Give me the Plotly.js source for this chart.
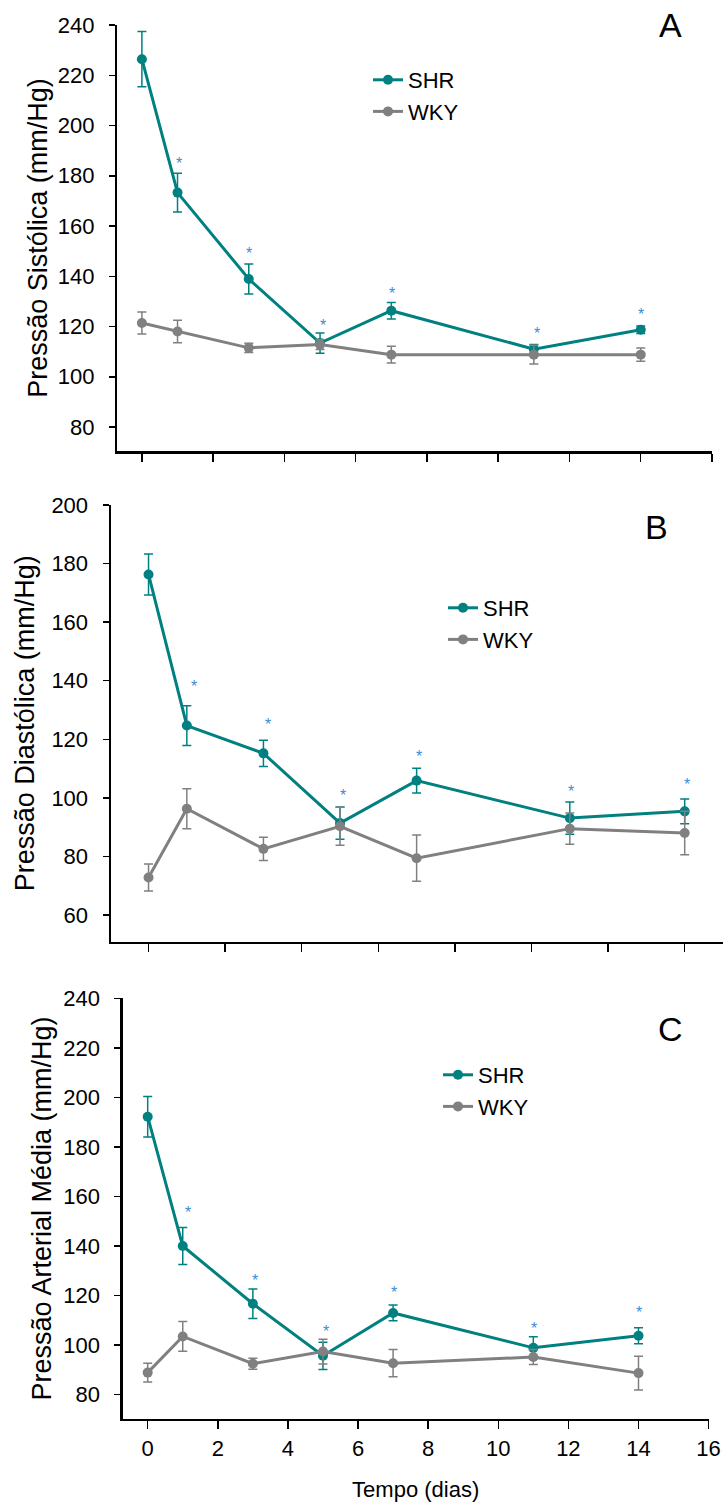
<!DOCTYPE html>
<html>
<head>
<meta charset="utf-8">
<script src="https://cdn.plot.ly/plotly-3.0.1.min.js"></script>
<style>html,body{margin:0;padding:0;background:#fff;}#chart{width:723px;height:1503px;}</style>
</head>
<body>
<div id="chart"></div>
<script>
// ---- data ----
const days = [0, 1, 3, 5, 7, 11, 14];
const xTicks = [0, 2, 4, 6, 8, 10, 12, 14, 16];

// A: Pressão Sistólica
const sysSHR    = [226.4, 173.3, 138.9, 113.4, 126.3, 111.0, 118.7];
const sysSHRerr = [11, 7.7, 6, 4, 3.3, 1.8, 1.5];
const sysWKY    = [121.4, 118.0, 111.5, 112.8, 108.8, 108.8, 108.8];
const sysWKYerr = [4.4, 4.5, 1.8, 2, 3.3, 3.7, 2.6];
const sysStarX  = [1.05, 3.0, 5.07, 7.03, 11.08, 14.0];
const sysStarY  = [187, 151, 122.4, 135, 119.4, 126.7];

// B: Pressão Diastólica
const diaSHR    = [176.3, 124.7, 115.2, 91.4, 105.9, 93.1, 95.4];
const diaSHRerr = [7, 6.8, 4.5, 5.5, 4.2, 5.5, 4.2];
const diaWKY    = [72.8, 96.3, 82.6, 90.3, 79.4, 89.5, 88.0];
const diaWKYerr = [4.6, 6.8, 4, 6.5, 7.9, 5.3, 7.4];
const diaStarX  = [1.2, 3.13, 5.09, 7.05, 11.02, 14.06];
const diaStarY  = [139.8, 126.9, 102.6, 116, 103.8, 106.3];

// C: Pressão Arterial Média
const mapSHR    = [192.2, 140.0, 116.7, 95.7, 113.0, 98.9, 103.8];
const mapSHRerr = [8.2, 7.5, 6, 5.5, 3.2, 4.5, 3.2];
const mapWKY    = [88.9, 103.5, 92.5, 97.4, 92.7, 95.2, 88.7];
const mapWKYerr = [3.8, 6, 2.2, 5, 5.5, 3, 6.8];
const mapStarX  = [1.16, 3.05, 5.1, 7.04, 11.02, 14.01];
const mapStarY  = [155.6, 128.2, 107.6, 123.2, 108.7, 115];

const seriesNames = ['SHR', 'WKY'];
const panelLetters = ['A', 'B', 'C'];
const yTitles = ['Pressão Sistólica (mm/Hg)', 'Pressão Diastólica (mm/Hg)', 'Pressão Arterial Média (mm/Hg)'];
const xTitle = 'Tempo (dias)';

// ---- styling ----
const TEAL = '#008080';
const GREY = '#808080';
const STAR = '#3a8dd6';
const FONT = 'Liberation Sans, Arial, sans-serif';

function series(name, y, err, color, xa, ya, leg) {
  return {
    type: 'scatter', mode: 'lines+markers', name: name,
    x: days, y: y, xaxis: xa, yaxis: ya, legend: leg,
    line: {color: color, width: 3},
    marker: {color: color, size: 10, symbol: 'circle'},
    error_y: {type: 'data', array: err, visible: true, color: color, thickness: 1.5, width: 4.5},
    cliponaxis: false
  };
}
function starNotes(x, y, xa, ya) {
  return x.map((v, i) => ({
    xref: xa, yref: ya, x: v, y: y[i], text: '*', showarrow: false,
    xanchor: 'center', yanchor: 'middle', yshift: -5,
    font: {color: STAR, size: 16, family: FONT}
  }));
}

const data = [
  series(seriesNames[0], sysSHR, sysSHRerr, TEAL, 'x', 'y', 'legend'),
  series(seriesNames[1], sysWKY, sysWKYerr, GREY, 'x', 'y', 'legend'),
  series(seriesNames[0], diaSHR, diaSHRerr, TEAL, 'x2', 'y2', 'legend2'),
  series(seriesNames[1], diaWKY, diaWKYerr, GREY, 'x2', 'y2', 'legend2'),
  series(seriesNames[0], mapSHR, mapSHRerr, TEAL, 'x3', 'y3', 'legend3'),
  series(seriesNames[1], mapWKY, mapWKYerr, GREY, 'x3', 'y3', 'legend3')
];

const W = 723, H = 1503;
function xa(l, r, range, anchor, labels) {
  return {
    domain: [l / W, r / W], range: range, anchor: anchor,
    tickmode: 'array', tickvals: xTicks, ticktext: xTicks.map(String),
    showticklabels: labels, ticks: 'outside', ticklen: 8, tickwidth: 1.5, tickcolor: '#000',
    showline: true, linecolor: '#000', linewidth: 2.5,
    showgrid: false, zeroline: false,
    tickfont: {family: FONT, size: 22, color: '#000'}
  };
}
function ya(top, bottom, range, anchor, title, standoff) {
  return {
    domain: [1 - bottom / H, 1 - top / H], range: range, anchor: anchor,
    dtick: 20, tick0: 0,
    ticks: 'outside', ticklen: 6, tickwidth: 1.5, tickcolor: '#000',
    ticklabelstandoff: 10,
    showline: true, linecolor: '#000', linewidth: 2.5,
    showgrid: false, zeroline: false,
    tickfont: {family: FONT, size: 22, color: '#000'},
    title: {text: title, font: {family: FONT, size: 27, color: '#000'}, standoff: standoff}
  };
}
function legend(left, top) {
  return {
    x: left / W, y: 1 - top / H, xanchor: 'left', yanchor: 'top',
    bgcolor: 'rgba(0,0,0,0)', borderwidth: 0, tracegroupgap: 0,
    font: {family: FONT, size: 22, color: '#000'}
  };
}

const layout = {
  width: W, height: H,
  margin: {l: 0, r: 0, t: 0, b: 0},
  paper_bgcolor: '#fff', plot_bgcolor: '#fff',
  showlegend: true,
  font: {family: FONT, color: '#000'},
  xaxis:  xa(117.3, 712, [-0.69, 16], 'y', false),
  yaxis:  ya(25, 451, [70.45, 240], 'x', yTitles[0], 2),
  xaxis2: xa(111, 723, [-0.98, 15.0], 'y2', false),
  yaxis2: ya(505, 941.7, [50.9, 200], 'x2', yTitles[1], 9),
  xaxis3: Object.assign(xa(122.8, 708.6, [-0.71, 16], 'y3', true),
    {title: {text: xTitle, font: {family: FONT, size: 22, color: '#000'}, standoff: 22}}),
  yaxis3: ya(998.3, 1418.7, [70.3, 240], 'x3', yTitles[2], 4),
  legend:  legend(368, 59),
  legend2: legend(443, 587),
  legend3: legend(438, 1054),
  annotations: [
    {text: panelLetters[0], x: 670 / W, y: 1 - 25 / H},
    {text: panelLetters[1], x: 656.7 / W, y: 1 - 526.7 / H},
    {text: panelLetters[2], x: 670.7 / W, y: 1 - 1029 / H}
  ].map(a => Object.assign(a, {xref: 'paper', yref: 'paper', xanchor: 'center', yanchor: 'middle',
    showarrow: false, font: {family: FONT, size: 34, color: '#000'}}))
  .concat(starNotes(sysStarX, sysStarY, 'x', 'y'))
  .concat(starNotes(diaStarX, diaStarY, 'x2', 'y2'))
  .concat(starNotes(mapStarX, mapStarY, 'x3', 'y3'))
};

Plotly.newPlot('chart', data, layout, {displayModeBar: false, staticPlot: true});
</script>
</body>
</html>
